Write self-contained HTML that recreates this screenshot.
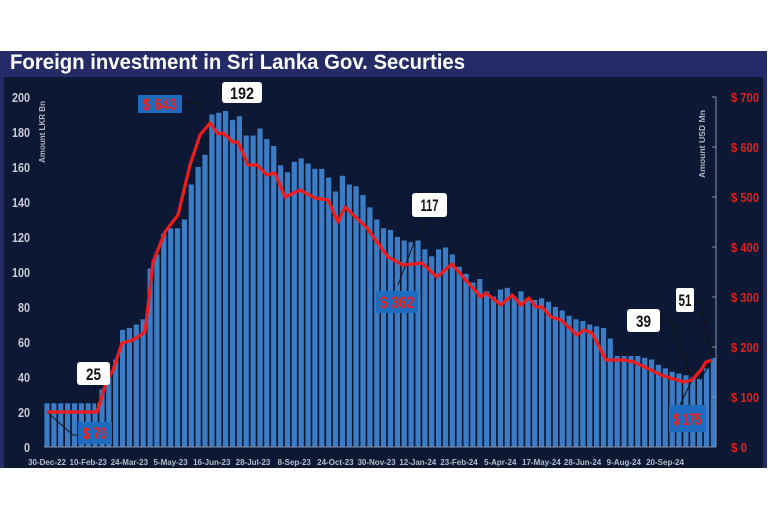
<!DOCTYPE html>
<html><head><meta charset="utf-8"><style>
body{margin:0;background:#fff;width:768px;height:512px;overflow:hidden}
svg{display:block}
text{font-family:"Liberation Sans",sans-serif;font-weight:bold}
</style></head><body>
<svg id="s" width="768" height="512" xmlns="http://www.w3.org/2000/svg">
<rect x="0" y="51" width="767" height="417" fill="#242b66"/>
<rect x="4" y="77" width="759" height="391" fill="#0c1834"/>
<text x="10" y="69" fill="#fff" font-size="21" textLength="455" lengthAdjust="spacingAndGlyphs">Foreign investment in Sri Lanka Gov. Securties</text>
<g id="bars" fill="#3b7cc4"></g>
<g fill="#c9ccd6" font-size="13" id="yl"></g>
<g fill="#e0201c" font-size="13" id="yr"></g>
<line x1="716" y1="97" x2="716" y2="447" stroke="#8a93a8" stroke-width="1"/>
<line x1="44" y1="447" x2="716" y2="447" stroke="#8a93a8" stroke-width="1"/>
<g fill="#b8bccb" font-size="8" id="xl"></g>
<text transform="translate(45,163) rotate(-90)" fill="#aeb4c4" font-size="8" textLength="62" lengthAdjust="spacingAndGlyphs">Amount LKR Bn</text>
<text transform="translate(705,178) rotate(-90)" fill="#aeb4c4" font-size="8" textLength="68" lengthAdjust="spacingAndGlyphs">Amount USD Mn</text>
<g stroke="#111" stroke-width="1" fill="none">
<polyline points="182,103 196,103 210,123"/>
<polyline points="430,217 415,240 398,285"/>
<polyline points="95,385 97,412"/>
<polyline points="47,412 73,435 78,435"/>
<polyline points="660,320 670,320 692,380 680,405"/>
<polyline points="694,300 700,300 712,360 700,380"/>
</g>
<polyline id="ln" fill="none" stroke="#ee1c1c" stroke-width="3.2" stroke-linejoin="round" points=""/>
<g font-size="17" id="ann">
<rect x="222" y="82" width="40" height="21" rx="3" fill="#fff"/><text x="242" y="99" text-anchor="middle" fill="#111" textLength="24" lengthAdjust="spacingAndGlyphs">192</text>
<rect x="412" y="193" width="35" height="24" rx="3" fill="#fff"/><text x="429.5" y="211" text-anchor="middle" fill="#111" textLength="18" lengthAdjust="spacingAndGlyphs">117</text>
<rect x="77" y="362" width="33" height="23" rx="3" fill="#fff"/><text x="93.5" y="380" text-anchor="middle" fill="#111" textLength="15" lengthAdjust="spacingAndGlyphs">25</text>
<rect x="627" y="309" width="33" height="23" rx="3" fill="#fff"/><text x="643.5" y="327" text-anchor="middle" fill="#111" textLength="15" lengthAdjust="spacingAndGlyphs">39</text>
<rect x="676" y="288" width="18" height="24" rx="2" fill="#fff"/><text x="685" y="306" text-anchor="middle" fill="#111" textLength="13" lengthAdjust="spacingAndGlyphs">51</text>
<rect x="138" y="95" width="44" height="18" fill="#1e6cc0"/><text x="160" y="110" text-anchor="middle" fill="#e8201c" textLength="34" lengthAdjust="spacingAndGlyphs">$ 643</text>
<rect x="376" y="291" width="42" height="22" fill="#1e6cc0"/><text x="397" y="308" text-anchor="middle" fill="#e8201c" textLength="34" lengthAdjust="spacingAndGlyphs">$ 362</text>
<rect x="78" y="422" width="34" height="22" fill="#1e6cc0"/><text x="95" y="439" text-anchor="middle" fill="#e8201c" textLength="24" lengthAdjust="spacingAndGlyphs">$ 70</text>
<rect x="669" y="405" width="37" height="27" fill="#1e6cc0"/><text x="687.5" y="425" text-anchor="middle" fill="#e8201c" textLength="28" lengthAdjust="spacingAndGlyphs">$ 175</text>
</g>
</svg>
<script>
var NS="http://www.w3.org/2000/svg";
function el(p,t,a,txt){var e=document.createElementNS(NS,t);for(var k in a)e.setAttribute(k,a[k]);if(txt!=null)e.textContent=txt;document.getElementById(p).appendChild(e);}
var v=[25,25,25,25,25,25,25,25,33,40,50,67,68,70,73,102,110,122,125,125,130,150,160,167,190,191,192,187,189,178,178,182,176,172,161,157,163,
165,162,159,159,154,146,155,150,149,144,137,130,125,124,120,118,117,118,113,109,113,114,110,103,99,94,96,89,86,90,91,86,89,85,84,
85,83,80,78,75,73,72,70,69,68,62,52,52,52,52,51,50,47,45,43,42,41,40,39,45,51];
for(var i=0;i<v.length;i++){var x=47+6.87*i;el("bars","rect",{x:(x-2.6).toFixed(1),y:(447-v[i]*1.75).toFixed(1),width:5.2,height:(v[i]*1.75).toFixed(1)});}
for(var j=0;j<=10;j++){var y=447-j*35;var s=String(j*20);el("yl","text",{x:30,y:y+5,"text-anchor":"end",textLength:s.length*6,lengthAdjust:"spacingAndGlyphs"},s);}
for(var j=0;j<=7;j++){var y=447-j*50;var s="$ "+(j*100);el("yr","text",{x:731,y:y+5,textLength:j?28:16,lengthAdjust:"spacingAndGlyphs"},s);el("yl","line",{x1:712,y1:y,x2:716,y2:y,stroke:"#8a93a8"});}
var d=["30-Dec-22","10-Feb-23","24-Mar-23","5-May-23","16-Jun-23","28-Jul-23","8-Sep-23","24-Oct-23","30-Nov-23","12-Jan-24","23-Feb-24","5-Apr-24","17-May-24","28-Jun-24","9-Aug-24","20-Sep-24"];
for(var k=0;k<d.length;k++){el("xl","text",{x:(47+41.2*k).toFixed(1),y:465,"text-anchor":"middle"},d[k]);}
document.getElementById("ln").setAttribute("points","47,412 97,412 107,380 113,370 122,343 133,340 145,332 153,262 165,232 178,215 190,165 200,135 210,123 218,134 223,133 233,142 238,142 248,165 257,165 267,175 275,173 285,197 300,190 315,198 328,200 338,222 345,207 367,228 388,257 403,265 422,263 437,277 452,264 463,277 481,297 486,293 501,305 512,295 521,305 529,298 536,307 542,307 551,317 561,320 577,335 584,330 592,333 606,360 624,360 634,362 647,368 661,375 677,380 684,382 692,380 701,370 706,362 712,360");
</script>
</body></html>
